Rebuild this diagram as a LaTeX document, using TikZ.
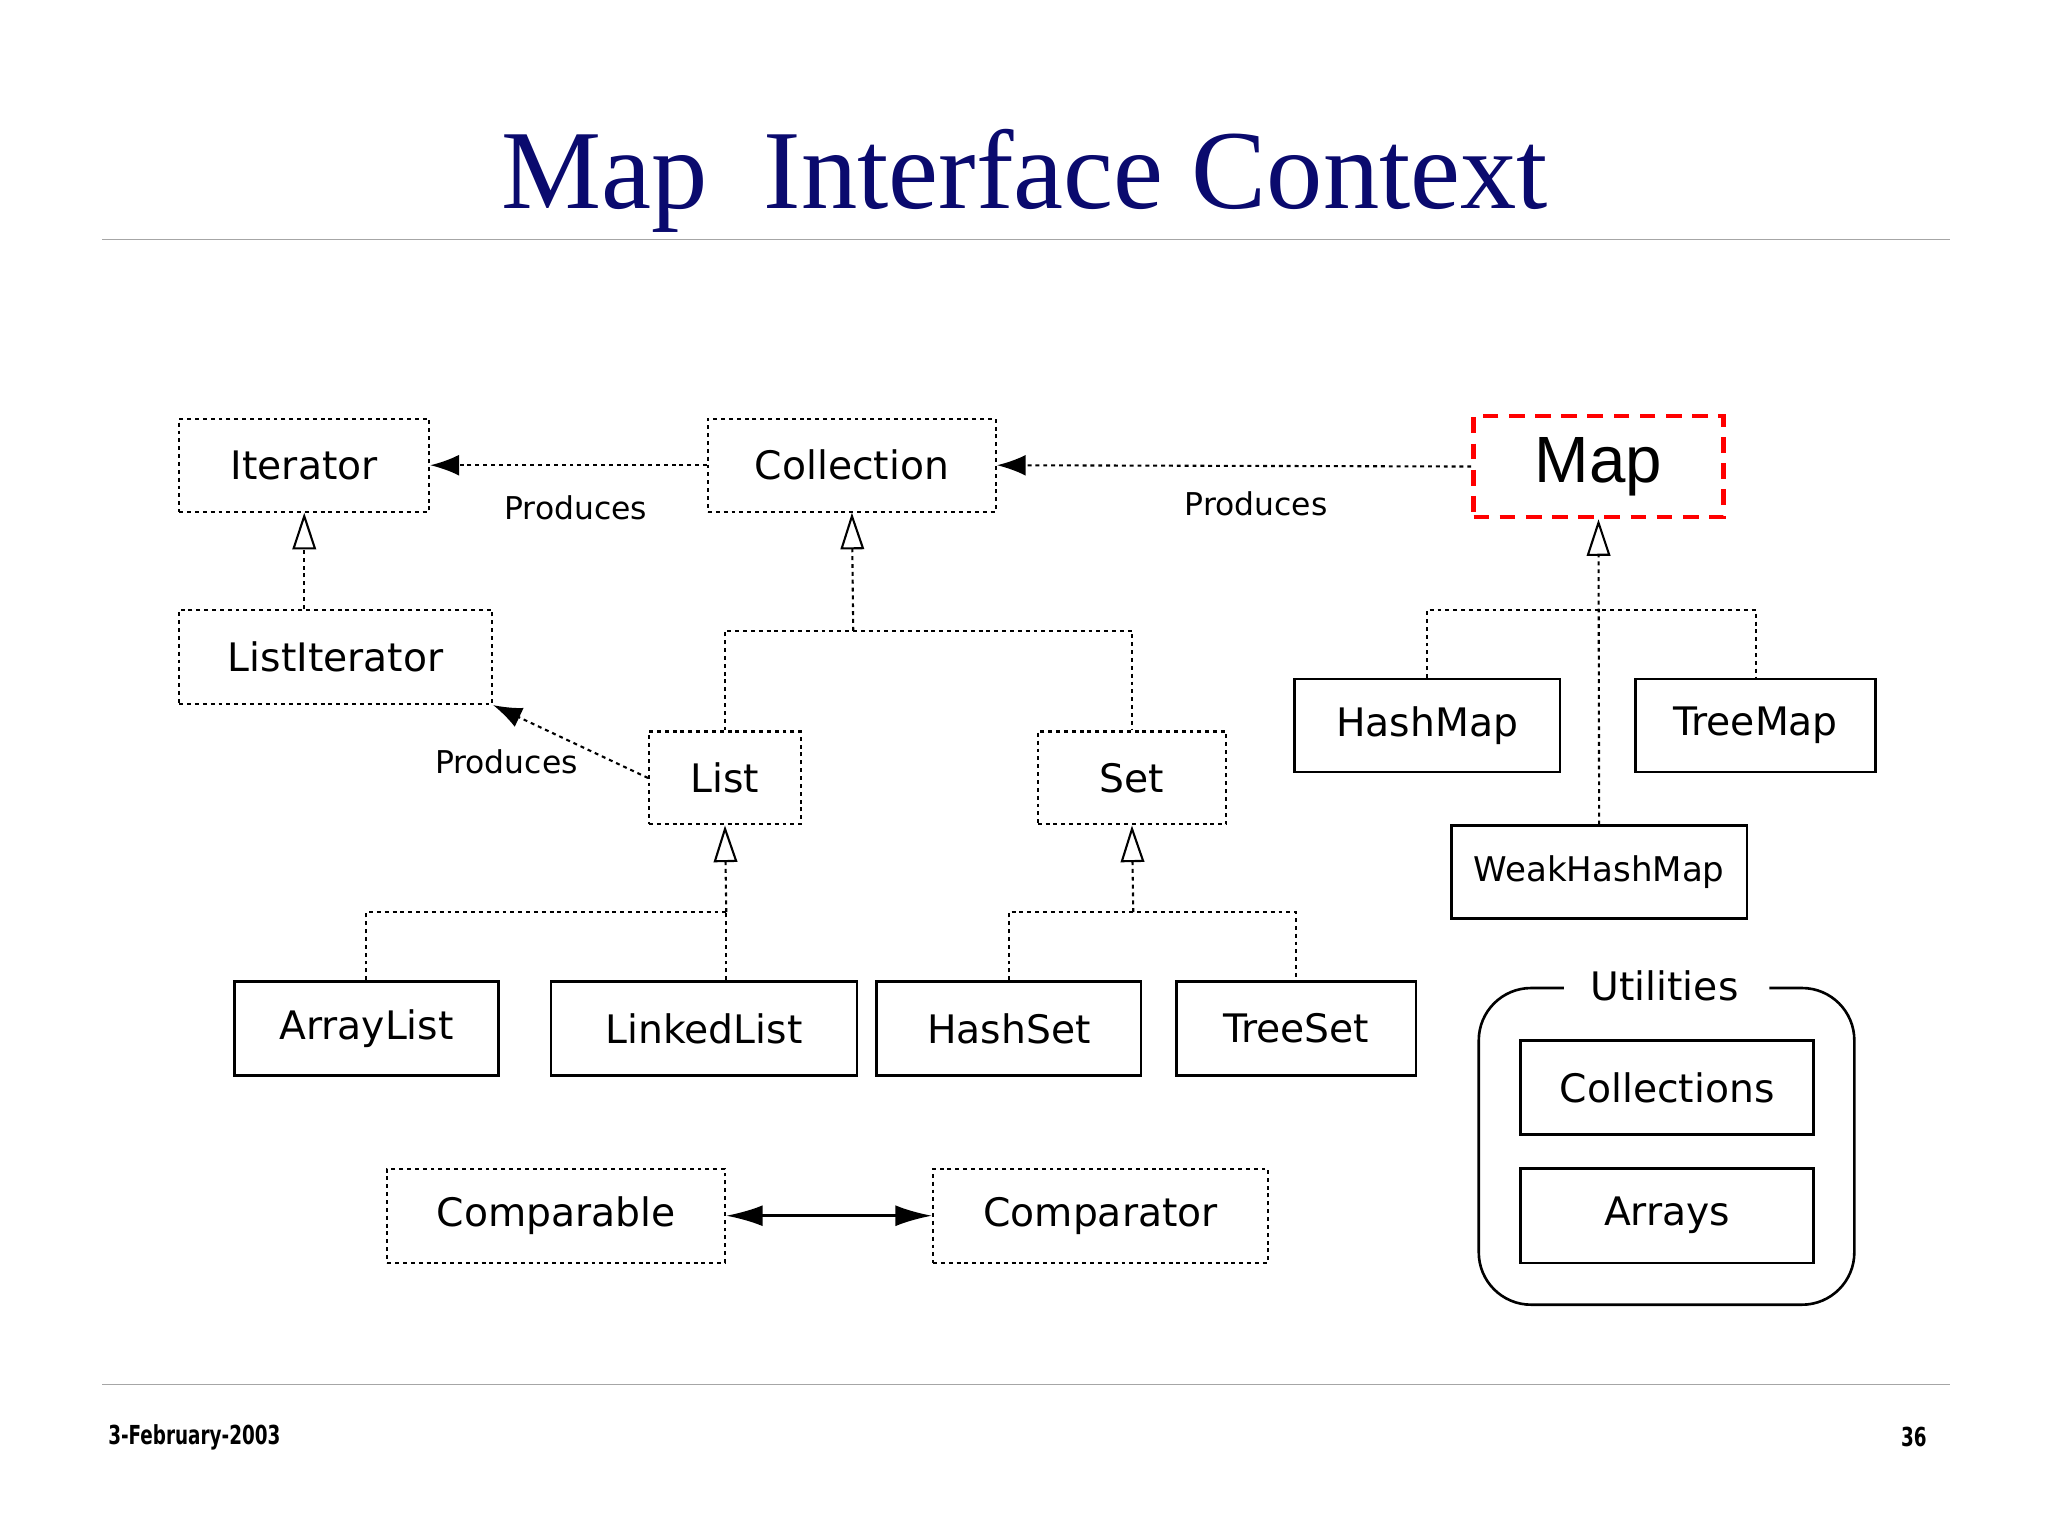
\documentclass[tikz,border=0pt]{standalone}
\usepackage{fontspec}
\setmainfont{Liberation Serif}
\newfontfamily\boxfont{DejaVu Sans}
\newfontfamily\mapfont{Liberation Sans}
\newfontfamily\footfont{DejaVu Sans Condensed}
\usetikzlibrary{arrows.meta}
\definecolor{navy}{RGB}{10,10,110}
\begin{document}
\begin{tikzpicture}[x=1pt,y=-1pt,
  iface/.style={draw,dash pattern=on 3pt off 3pt,line width=1.6pt,inner sep=0pt,font=\boxfont\fontsize{30}{32}\selectfont},
  cls/.style={draw,line width=2pt,inner sep=0pt,font=\boxfont\fontsize{30}{32}\selectfont},
  dot/.style={dash pattern=on 3pt off 3pt,line width=1.6pt},
  prod/.style={dot,-{Latex[length=22pt,width=16pt]}},
  inh/.style={dot,-{Triangle[open,length=28pt,width=18pt,line width=1.6pt]}},
  lbl/.style={font=\boxfont\fontsize{24}{26}\selectfont}]
\useasboundingbox (0,0) rectangle (1565,1174);
\node[text=navy,font=\fontsize{86}{88}\selectfont] (title) at (783,138) {Map\ \ Interface Context};
\draw[gray!70,line width=1pt] (78,183) -- (1490,183);
\draw[gray!70,line width=1pt] (78,1058) -- (1490,1058);
\node[font=\footfont\bfseries\fontsize{20}{22}\selectfont,anchor=west,xscale=0.78] (date) at (80,1098) {3-February-2003};
\node[font=\footfont\bfseries\fontsize{20}{22}\selectfont,anchor=east,xscale=0.78] (num) at (1475,1098) {36};
% nodes
\node[iface,minimum width=191,minimum height=71] (it) at (232.5,355.5) {Iterator};
\node[iface,minimum width=220,minimum height=71] (col) at (651,355.5) {Collection};
\node[draw=red,dash pattern=on 12pt off 8pt,line width=3.5pt,minimum width=191,minimum height=77,inner sep=0pt,font=\mapfont\fontsize{50}{52}\selectfont] (map) at (1221.5,356.5) {Map};
\node[iface,minimum width=239,minimum height=72] (li) at (256.5,502) {ListIterator};
\node[iface,minimum width=116,minimum height=71] (list) at (554,594.5) {List};
\node[iface,minimum width=144,minimum height=71] (set) at (865,594.5) {Set};
\node[cls,minimum width=203,minimum height=71] (hm) at (1090.5,554.5) {HashMap};
\node[cls,minimum width=183,minimum height=71] (tm) at (1341.5,554.5) {TreeMap};
\node[cls,minimum width=226,minimum height=71,font=\boxfont\fontsize{26}{28}\selectfont] (whm) at (1222,666.5) {WeakHashMap};
\node[cls,minimum width=202,minimum height=72] (al) at (280,786) {ArrayList};
\node[cls,minimum width=234,minimum height=72] (ll) at (538,786) {LinkedList};
\node[cls,minimum width=202,minimum height=72] (hs) at (771,786) {HashSet};
\node[cls,minimum width=183,minimum height=72] (ts) at (990.5,786) {TreeSet};
\node[iface,minimum width=258,minimum height=72] (cpb) at (425,929) {Comparable};
\node[iface,minimum width=256,minimum height=72] (cpt) at (841,929) {Comparator};
\draw[line width=2pt,rounded corners=40pt] (1195,755) -- (1130,755) -- (1130,997) -- (1417,997) -- (1417,755) -- (1352,755);
\node[lbl,font=\boxfont\fontsize{30}{32}\selectfont] (util) at (1272,753) {Utilities};
\node[cls,minimum width=224,minimum height=72] (cols) at (1274,831) {Collections};
\node[cls,minimum width=224,minimum height=72] (arr) at (1274,929) {Arrays};
% produces
\draw[prod] (col.west) -- (it.east);
\node[lbl] (p1) at (440,388) {Produces};
\draw[prod] (map.west) -- (col.east);
\node[lbl] (p2) at (960,385) {Produces};
\draw[prod] (list.west) -- (li.south east);
\node[lbl] (p3) at (387,582) {Produces};
% inheritance
\draw[inh] (li.north -| it.south) -- (it.south);
\coordinate (c1) at (652,482);
\draw[dot] (list.north) |- (c1) -| (set.north);
\draw[inh] (c1) -- (col.south);
\coordinate (c2) at (1221,466);
\draw[dot] (hm.north) |- (c2) -| (tm.north);
\draw[inh] (whm.north) -- (map.south);
\coordinate (c3) at (555,697);
\draw[dot] (al.north) |- (c3);
\draw[dot] (ll.north -| c3) -- (c3);
\draw[inh] (c3) -- (list.south);
\coordinate (c4) at (866,697);
\draw[dot] (hs.north) |- (c4) -| (ts.north);
\draw[inh] (c4) -- (set.south);
\draw[line width=2pt,{Latex[length=28pt,width=16pt]}-{Latex[length=28pt,width=16pt]}] (cpb.east) -- (cpt.west);
\end{tikzpicture}
\end{document}
